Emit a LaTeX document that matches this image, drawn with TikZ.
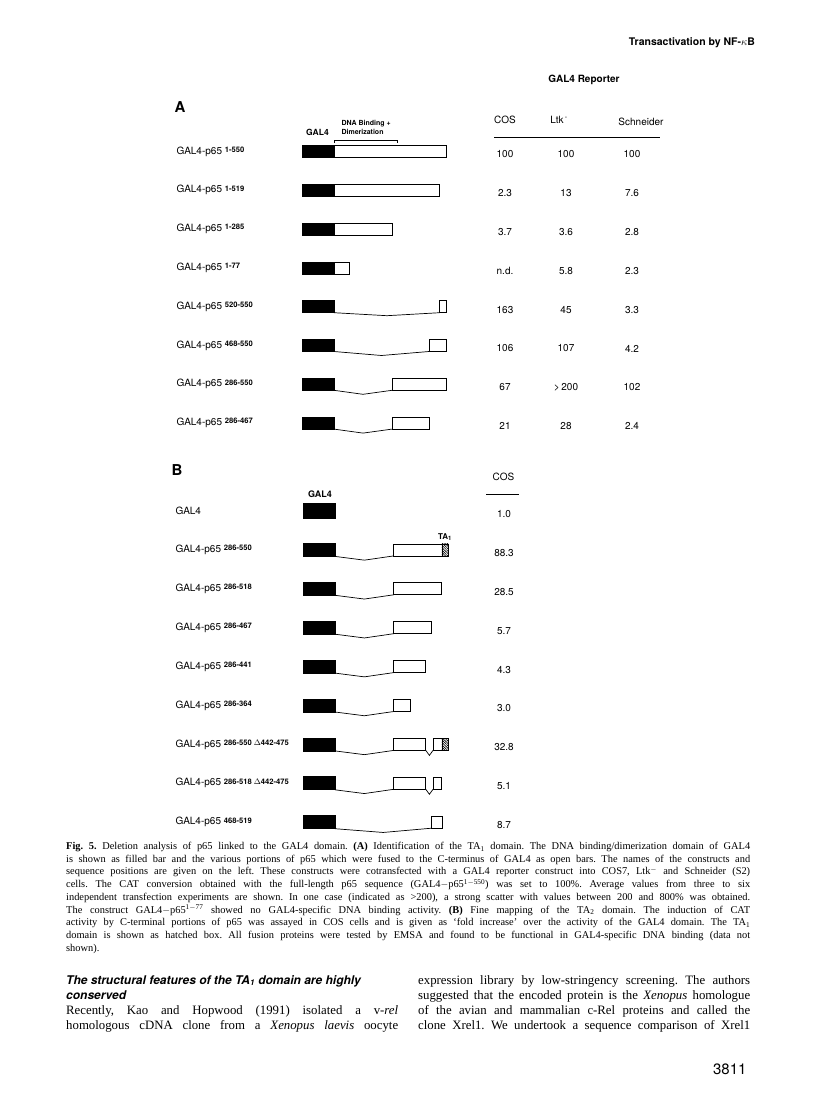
\documentclass[tikz,border=0pt]{standalone}
\usepackage{fontspec}
\setmainfont{Liberation Serif}
\setsansfont{TeX Gyre Heros}
\usetikzlibrary{calc,patterns.meta}
\frenchspacing
\newcommand\resno[1]{\raisebox{1.8pt}{\fontsize{7.6}{9}\selectfont\bfseries #1}}
\newcommand\capline[1]{\hbox to 684pt{#1}}
\newcommand\colline[1]{\hbox to 332pt{#1}}
\newcommand\splice[3]{\draw[splicel] (#1.south east) -- ($(#1.south east)!.5!(#2.south west)+(0,#3)$) -- (#2.south west);}

\begin{document}
\begin{tikzpicture}[x=1pt,y=-1pt,
  every node/.style={font=\sffamily\fontsize{10}{12}\selectfont},
  gbar/.style={draw,fill=black,line width=.8pt,inner sep=0pt,outer sep=0pt,minimum height=12pt,minimum width=32pt,anchor=west},
  obar/.style={draw,fill=white,line width=.8pt,inner sep=0pt,outer sep=0pt,minimum height=12pt,anchor=west},
  hbar/.style={obar,pattern={Lines[angle=-45,distance=1.7pt,line width=.7pt]}},
  splicel/.style={line width=.7pt},
  lbl/.style={anchor=west},
  head/.style={font=\sffamily\bfseries\fontsize{10}{12}\selectfont},
  panel/.style={font=\sffamily\bfseries\fontsize{15}{16}\selectfont}]
  \useasboundingbox (0,0) rectangle (816,1113);
  \fill[white] (0,0) rectangle (816,1113);

  % running head
  \node[head,font=\sffamily\bfseries\fontsize{10.5}{12}\selectfont] (title) at (692,43) {Transactivation by NF-$\kappa$B};

  % panel A
  \node[panel] (A) at (180,107) {A};
  \node[head] (rep) at (584,80) {GAL4 Reporter};
  \node (hcos) at (505,120) {COS};
  \node (hltk) at (559,120) {Ltk\textsuperscript{\,-}};
  \node (hsch) at (641,122) {Schneider};
  \draw[line width=.7pt] (494,137) -- (660,137);
  \node[font=\sffamily\bfseries\fontsize{8.5}{10}\selectfont] (gtag) at (317.5,132) {GAL4};
  \node[anchor=west,align=left,font=\sffamily\bfseries\fontsize{7}{8.5}\selectfont] (dbd) at (338,127.5) {DNA Binding +\\Dimerization};
  \draw[line width=.6pt] (334,143) -- (334,140) -- (397,140) -- (397,143);
  \foreach \rng/\vc/\vl/\vs [count=\i from 0] in {1-550/100/100/100, 1-519/2.3/13/7.6, 1-285/3.7/3.6/2.8, 1-77/n.d./5.8/2.3,
      520-550/163/45/3.3, 468-550/106/107/4.2, 286-550/67/{>\,200}/102, 286-467/21/28/2.4}{
    \node[lbl] (lA\i) at (173,151.5+38.8*\i) {GAL4-p65 \resno{\rng}};
    \node (cA\i) at (505,154.5+38.8*\i) {\vc};
    \node (kA\i) at (566,154.5+38.8*\i) {\vl};
    \node (sA\i) at (632,154.5+38.8*\i) {\vs};
    \node[gbar] (gA\i) at (302,151.5+38.8*\i) {};
  }
  \node[obar,minimum width=112pt] (pA0) at (334,151.5) {};
  \node[obar,minimum width=105.7pt] (pA1) at (334,190.3) {};
  \node[obar,minimum width=58pt] (pA2) at (334,229.1) {};
  \node[obar,minimum width=15.7pt] (pA3) at (334,267.9) {};
  \node[obar,minimum width=6.3pt] (pA4) at (439.7,306.7) {};
  \node[obar,minimum width=17pt] (pA5) at (429,345.5) {};
  \node[obar,minimum width=54pt] (pA6) at (392,384.3) {};
  \node[obar,minimum width=37pt] (pA7) at (392,423.1) {};
  \splice{gA4}{pA4}{3}
  \splice{gA5}{pA5}{4}
  \splice{gA6}{pA6}{4}
  \splice{gA7}{pA7}{4}

  % panel B
  \node[panel] (B) at (177,470) {B};
  \node (hcosB) at (503.5,477) {COS};
  \draw[line width=.7pt] (486,494) -- (519,494);
  \node[font=\sffamily\bfseries\fontsize{9}{10}\selectfont] (gtagB) at (320,494) {GAL4};
  \foreach \lab/\vc [count=\i from 0] in {GAL4/1.0, GAL4-p65 \resno{286-550}/88.3, GAL4-p65 \resno{286-518}/28.5,
      GAL4-p65 \resno{286-467}/5.7, GAL4-p65 \resno{286-441}/4.3, GAL4-p65 \resno{286-364}/3.0,
      GAL4-p65 \resno{286-550 $\Delta$442-475}/32.8, GAL4-p65 \resno{286-518 $\Delta$442-475}/5.1, GAL4-p65 \resno{468-519}/8.7}{
    \node[lbl] (lB\i) at (172,511+38.9*\i) {\lab};
    \node (cB\i) at (504,514+38.9*\i) {\vc};
  }
  \node[gbar,minimum height=15pt] (gB0) at (303,511) {};
  \foreach \i in {1,...,8}{
    \node[gbar,minimum height=13pt] (gB\i) at (303,511+38.9*\i) {};
  }
  \begin{scope}[every node/.append style={minimum height=13pt}]
    \node[obar,minimum width=48.2pt] (pB1) at (393.7,549.9) {};
    \node[hbar,minimum width=6.4pt] (tB1) at (441.9,549.9) {};
    \node[obar,minimum width=48pt] (pB2) at (393.7,588.8) {};
    \node[obar,minimum width=37.5pt] (pB3) at (393.7,627.7) {};
    \node[obar,minimum width=32.1pt] (pB4) at (393.7,666.6) {};
    \node[obar,minimum width=16.3pt] (pB5) at (393.7,705.5) {};
    \node[obar,minimum width=32.1pt] (pB6) at (393.7,744.4) {};
    \node[obar,minimum width=8.9pt] (qB6) at (433,744.4) {};
    \node[hbar,minimum width=6.4pt] (tB6) at (441.9,744.4) {};
    \node[obar,minimum width=32.1pt] (pB7) at (393.7,783.3) {};
    \node[obar,minimum width=8.7pt] (qB7) at (433,783.3) {};
    \node[obar,minimum width=10.5pt] (pB8) at (431.4,822.2) {};
  \end{scope}
  \node[font=\sffamily\bfseries\fontsize{8}{9}\selectfont] (ta) at (445,537) {TA\textsubscript{1}};
  \foreach \i in {1,...,8}{
    \splice{gB\i}{pB\i}{4}
  }
  \splice{pB6}{qB6}{5}
  \splice{pB7}{qB7}{5}

  % caption
  \node[anchor=north west,inner sep=0pt,align=left,font=\rmfamily\fontsize{10.4}{12.7}\selectfont] (cap) at (66,842) {%
    \capline{\textbf{Fig. 5.} Deletion analysis of p65 linked to the GAL4 domain. \textbf{(A)} Identification of the TA\textsubscript{1} domain. The DNA binding/dimerization domain of GAL4}\\
    \capline{is shown as filled bar and the various portions of p65 which were fused to the C-terminus of GAL4 as open bars. The names of the constructs and}\\
    \capline{sequence positions are given on the left. These constructs were cotransfected with a GAL4 reporter construct into COS7, Ltk\textsuperscript{$-$} and Schneider (S2)}\\
    \capline{cells. The CAT conversion obtained with the full-length p65 sequence (GAL4$-$p65\textsuperscript{1$-$550}) was set to 100\%. Average values from three to six}\\
    \capline{independent transfection experiments are shown. In one case (indicated as >200), a strong scatter with values between 200 and 800\% was obtained.}\\
    \capline{The construct GAL4$-$p65\textsuperscript{1$-$77} showed no GAL4-specific DNA binding activity. \textbf{(B)} Fine mapping of the TA\textsubscript{2} domain. The induction of CAT}\\
    \capline{activity by C-terminal portions of p65 was assayed in COS cells and is given as `fold increase' over the activity of the GAL4 domain. The TA\textsubscript{1}}\\
    \capline{domain is shown as hatched box. All fusion proteins were tested by EMSA and found to be functional in GAL4-specific DNA binding (data not}\\
    shown).};

  % body text
  \node[anchor=north west,inner sep=0pt,align=left,font=\sffamily\bfseries\itshape\fontsize{12}{15}\selectfont] (sec) at (66,975) {The structural features of the TA\textsubscript{1} domain are highly\\conserved};
  \node[anchor=north west,inner sep=0pt,align=left,font=\rmfamily\fontsize{12.8}{15}\selectfont] (colL) at (66,1005) {%
    \colline{Recently, Kao and Hopwood (1991) isolated a v-\textit{rel}}\\
    \colline{homologous cDNA clone from a \textit{Xenopus laevis} oocyte}};
  \node[anchor=north west,inner sep=0pt,align=left,font=\rmfamily\fontsize{12.8}{15}\selectfont] (colR) at (418,975) {%
    \colline{expression library by low-stringency screening. The authors}\\
    \colline{suggested that the encoded protein is the \textit{Xenopus} homologue}\\
    \colline{of the avian and mammalian c-Rel proteins and called the}\\
    \colline{clone Xrel1. We undertook a sequence comparison of Xrel1}};
  \node[anchor=east,font=\sffamily\fontsize{15}{16}\selectfont] (page) at (750,1069) {3811};
\end{tikzpicture}
\end{document}
